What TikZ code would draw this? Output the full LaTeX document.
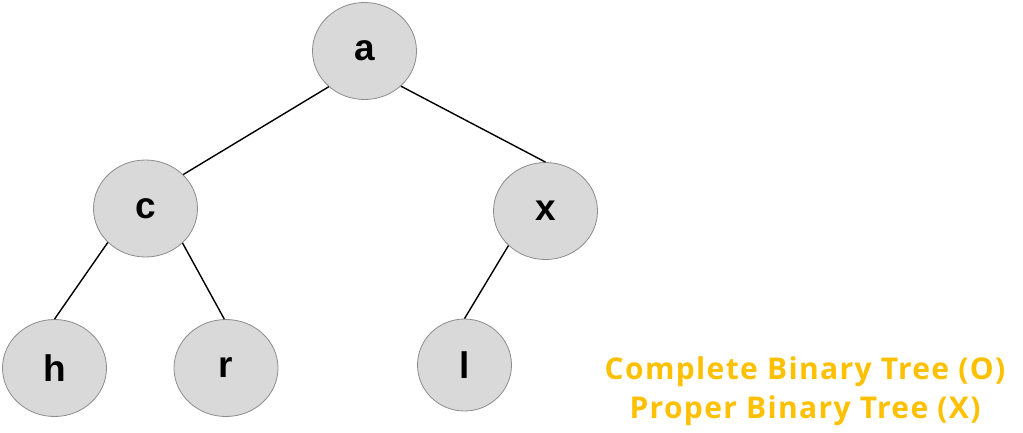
\documentclass[tikz,border=0pt]{standalone}
\usepackage{fontspec}
\setmainfont{Liberation Sans}
\newfontfamily\notefont[LetterSpace=4.5]{Open Sans}
\usetikzlibrary{shapes.geometric}
\definecolor{nodefill}{HTML}{D9D9D9}
\definecolor{nodeline}{HTML}{8C8C8C}
\definecolor{note}{HTML}{FFC000}
\begin{document}
\begin{tikzpicture}[x=1pt,y=-1pt,
  treenode/.style={ellipse, draw=nodeline, fill=nodefill, line width=0.8pt,
    minimum width=104pt, minimum height=97pt, inner sep=0pt,
    font=\fontsize{37}{40}\selectfont\bfseries},
  smallnode/.style={treenode, minimum width=94pt, minimum height=92pt},
  edge/.style={line width=1.4pt, black},
  notetext/.style={text=note, anchor=base, inner sep=0pt,
    font=\notefont\bfseries\fontsize{30}{30}\selectfont}]
\useasboundingbox (0,0) rectangle (1023,432);
\node[treenode] (a) at (364.5,51) {a};
\node[treenode] (c) at (145.5,208.5) {c};
\node[treenode] (x) at (545.5,211) {x};
\node[treenode] (h) at (54.5,368) {h};
\node[treenode] (r) at (226,368) {r};
\node[smallnode] (l) at (464.5,365) {l};
\draw[edge] (a.225) -- (c.42);
\draw[edge] (a.-44) -- (x.90);
\draw[edge] (c.222) -- (h.90);
\draw[edge] (c.-43) -- (r.92);
\draw[edge] (x.223) -- (l.90);
\node[notetext] (n1) at (805,379) {Complete Binary Tree (O)};
\node[notetext] (n2) at (805,418) {Proper Binary Tree (X)};
\end{tikzpicture}
\end{document}
